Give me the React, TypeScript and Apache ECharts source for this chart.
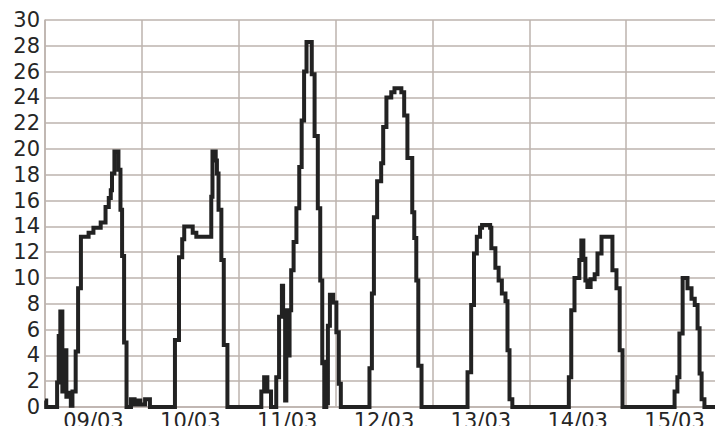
import React, { useEffect, useRef } from "react";
import * as echarts from "echarts";

// Day labels (x axis), centred on each day
const dayLabels = ["09/03", "10/03", "11/03", "12/03", "13/03", "14/03", "15/03"];

// Readings: [hour since 09/03 00:00, value] – value holds until next reading
const day1: [number, number][] = [
  [0, 0.5], [0.3, 0], [3.0, 1.9], [3.4, 5.5], [3.8, 7.4], [4.3, 1.2], [4.6, 4.4],
  [5.3, 0.8], [5.8, 1.1], [6.4, 0.1], [6.8, 1.2], [7.6, 4.3], [8.2, 9.2], [8.9, 13.2],
  [10.8, 13.5], [12.0, 13.9], [13.8, 14.3], [15.0, 15.5], [15.8, 16.2], [16.3, 16.8],
  [16.6, 18.1], [17.2, 19.8], [18.2, 18.4], [18.7, 15.3], [19.1, 11.7], [19.6, 5.0],
  [20.2, 0], [21.3, 0.6], [22.2, 0.2], [22.8, 0.5], [23.6, 0.2], [24.8, 0.6], [26.0, 0],
];
const day2: [number, number][] = [
  [32.2, 5.2], [33.2, 11.6], [34.0, 13.0], [34.5, 14.0], [36.6, 13.5], [37.5, 13.2],
  [41.2, 16.3], [41.5, 19.8], [42.3, 19.1], [42.6, 18.1], [43.0, 15.3], [43.7, 11.4],
  [44.3, 4.8], [45.2, 0],
];
const day3: [number, number][] = [
  [53.6, 1.2], [54.3, 2.3], [55.1, 1.2], [56.0, 0], [57.3, 2.3], [58.0, 7.0], [58.7, 9.4],
  [59.0, 7.0], [59.5, 0.5], [59.8, 7.5], [60.3, 4.0], [60.6, 7.5], [61.0, 10.6],
  [61.6, 12.8], [62.3, 15.4], [63.0, 18.6], [63.6, 22.2], [64.2, 26.0], [64.8, 28.3],
  [66.1, 25.8], [66.8, 21.0], [67.6, 15.4], [68.2, 9.8], [68.7, 3.4], [69.2, 0],
  [69.7, 3.5], [69.9, 0.3], [70.1, 6.3], [70.6, 8.7], [71.4, 8.1], [72.2, 5.8],
  [72.8, 1.8], [73.3, 0],
];
const day4: [number, number][] = [
  [80.4, 3.0], [81.0, 8.8], [81.5, 14.7], [82.3, 17.5], [83.3, 18.9], [83.8, 21.7],
  [84.6, 24.0], [85.8, 24.4], [86.6, 24.7], [88.3, 24.4], [89.0, 22.6], [89.8, 19.3],
  [91.0, 15.1], [91.5, 13.1], [92.0, 9.8], [92.5, 3.2], [93.3, 0],
];
const day5: [number, number][] = [
  [104.7, 2.7], [105.6, 7.9], [106.3, 11.9], [107.0, 13.2], [107.8, 13.9], [108.3, 14.1],
  [110.3, 13.9], [110.6, 12.3], [111.6, 10.8], [112.4, 9.8], [113.2, 8.8], [114.1, 8.2],
  [114.6, 4.4], [115.1, 0.6], [115.8, 0],
];
const day6: [number, number][] = [
  [129.8, 2.3], [130.4, 7.5], [131.2, 10.0], [132.4, 11.4], [132.9, 12.9], [133.4, 11.5],
  [133.9, 9.8], [134.4, 9.3], [135.2, 9.9], [136.2, 10.3], [136.9, 11.9], [137.9, 13.2],
  [140.6, 10.6], [141.6, 9.2], [142.4, 4.4], [143.1, 0],
];
const day7: [number, number][] = [
  [156.0, 1.2], [156.7, 2.3], [157.2, 5.7], [158.0, 10.0], [159.2, 9.2], [160.2, 8.4],
  [161.0, 7.9], [161.7, 6.1], [162.2, 2.6], [162.7, 0.6], [163.4, 0], [168, 0],
];

const Y_MIN = 0;
const Y_MAX = 30;
const Y_STEP = 2;
const X_MIN = 0;
const X_MAX = 168;
const X_STEP = 24;

export default function App() {
  const ref = useRef<HTMLDivElement>(null);
  useEffect(() => {
    if (!ref.current) return;
    const chart = echarts.init(ref.current, undefined, { renderer: "svg" });
    const gridColor = "#bdb3ae";
    const textColor = "#262626";
    const data = [...day1, ...day2, ...day3, ...day4, ...day5, ...day6, ...day7];
    chart.setOption({
      animation: false,
      backgroundColor: "#ffffff",
      grid: { left: 45, right: 0, top: 20, bottom: 27, containLabel: false },
      xAxis: [
        {
          type: "value",
          min: X_MIN,
          max: X_MAX,
          interval: X_STEP,
          axisLine: { show: true, lineStyle: { color: gridColor, width: 1.5 } },
          axisTick: { show: false },
          axisLabel: { show: false },
          splitLine: { show: true, lineStyle: { color: gridColor, width: 1.5 } },
        },
        {
          type: "category",
          data: dayLabels,
          position: "bottom",
          boundaryGap: true,
          axisLine: { show: false },
          axisTick: { show: false },
          splitLine: { show: false },
          axisLabel: {
            show: true,
            color: textColor,
            fontFamily: "DejaVu Sans",
            fontSize: 21,
            margin: 3,
          },
        },
      ],
      yAxis: {
        type: "value",
        min: Y_MIN,
        max: Y_MAX,
        interval: Y_STEP,
        axisLine: { show: true, lineStyle: { color: gridColor, width: 1.5 } },
        axisTick: { show: false },
        axisLabel: {
          color: textColor,
          fontFamily: "DejaVu Sans",
          fontSize: 21,
          margin: 5,
        },
        splitLine: { show: true, lineStyle: { color: gridColor, width: 1.5 } },
      },
      graphic: [
        {
          type: "rect",
          left: 0,
          bottom: 0,
          shape: { width: 723, height: 2 },
          style: { fill: "#6a6a6a" },
          silent: true,
        },
      ],
      series: [
        {
          type: "line",
          xAxisIndex: 0,
          step: "end",
          data,
          symbol: "none",
          lineStyle: { color: "#222222", width: 4, join: "miter" },
          clip: true,
        },
      ],
    });
    return () => chart.dispose();
  }, []);
  return <div ref={ref} style={{ width: 723, height: 434, margin: -8 }} />;
}
